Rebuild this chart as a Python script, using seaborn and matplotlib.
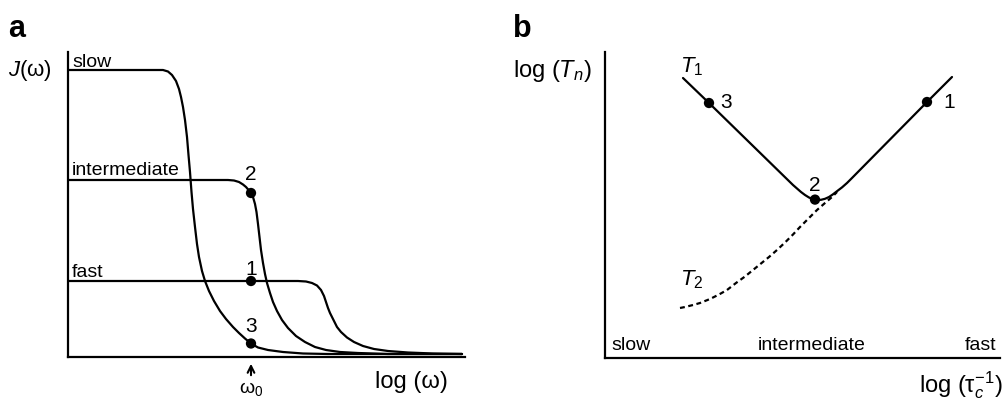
import matplotlib
matplotlib.use("Agg")
import matplotlib.pyplot as plt
import seaborn as sns
import pandas as pd

# ---- panel a: spectral density J(omega) against log(omega), arbitrary units ----
logw_slow = [0, 95, 100, 104, 108, 111, 113, 115, 117, 119, 120.5, 122, 123.5,
             125, 127, 129, 131, 134, 137, 141, 146, 152, 158, 165, 171, 177,
             183, 190, 200, 215, 235, 260, 394]
J_slow = [287, 287, 285.5, 282, 276, 268, 260, 250, 237, 220, 202, 185, 165,
          148, 130, 113, 100, 86, 76, 66, 56, 46, 38, 30, 24, 18.5,
          13.5, 9.5, 7, 5, 3.5, 3, 3]

logw_inter = [0, 160, 166, 171, 175, 178, 181, 183, 185, 187, 188.5, 190, 191.5,
              193, 195, 197, 199, 202, 205, 209, 214, 220, 228, 237, 247, 258,
              272, 290, 320, 394]
J_inter = [177, 177, 176.5, 175, 172.5, 170, 166.5, 164, 160, 153, 145, 133, 120,
           107, 94, 83, 74, 64, 55, 46, 37, 29, 21, 15, 10, 7,
           5, 4, 3, 3]

logw_fast = [0, 230, 238, 244, 249, 253, 256, 258, 260, 262, 264, 266.5, 269,
             273, 279, 286, 295, 306, 320, 340, 365, 394]
J_fast = [76, 76, 75.5, 74, 71.5, 67, 61, 55, 49, 44, 40, 35, 30,
          25, 19.5, 15, 11, 8, 6, 4.5, 3.5, 3]

curve_labels_a = ["slow", "intermediate", "fast"]
curve_label_J = [290, 182, 80]

omega0 = 183
point_names_a = ["2", "1", "3"]
point_J_a = [164, 76, 13.5]

# ---- panel b: relaxation times against log(1/tau_c) ----
T1_x = [78, 104, 188, 192, 196, 200, 204, 208, 212, 216, 220, 224, 228, 232,
        237, 242, 247, 322, 347]
T1_y = [280, 255, 173, 169.5, 166, 163, 160.5, 158.8, 158.1, 158.2, 159.2,
        161, 163.7, 166.8, 170.6, 175, 180, 256, 281]

T2_x = [75, 80, 88, 95, 105, 114, 122, 131, 140, 148, 156, 164, 172, 180, 188,
        195, 204, 212, 220, 227, 232]
T2_y = [50, 51, 53, 55, 59, 63.5, 68, 75, 81.5, 88, 94.5, 101, 108, 115.5,
        123.5, 131, 140, 148, 155, 161, 166]

point_names_b = ["3", "2", "1"]
point_x_b = [104, 210, 322]
point_y_b = [255, 158.4, 256]

regime_labels_b = ["slow", "intermediate", "fast"]

# ---- style ----
sns.set_style("white")
plt.rcParams["font.family"] = ["Liberation Sans", "DejaVu Sans"]
plt.rcParams["text.color"] = "black"
plt.rcParams["mathtext.fontset"] = "custom"
plt.rcParams["mathtext.rm"] = "Liberation Sans"
plt.rcParams["mathtext.it"] = "Liberation Sans:italic"
plt.rcParams["mathtext.bf"] = "Liberation Sans:bold"

W, H = 1006, 405
fig = plt.figure(figsize=(W / 100, H / 100), dpi=100)


def box(l, r, t, b):
    return [l / W, 1 - b / H, (r - l) / W, (b - t) / H]


def ftext(px, py, s, **kw):
    fig.text(px / W, 1 - py / H, s, color="black", **kw)


axa = fig.add_axes(box(68, 465, 52, 357))
axb = fig.add_axes(box(605, 1000, 52, 358))

for ax, xmax, ymax in [(axa, 397, 305), (axb, 395, 306)]:
    ax.set_xlim(0, xmax)
    ax.set_ylim(0, ymax)
    ax.set_xticks([])
    ax.set_yticks([])
    ax.set_facecolor("white")
    sns.despine(ax=ax)
    for s in ["left", "bottom"]:
        ax.spines[s].set_linewidth(1.6)
        ax.spines[s].set_color("black")

line_kw = dict(color="black", lw=1.6, sort=False, estimator=None)

# panel a curves
for xs, ys in [(logw_slow, J_slow), (logw_inter, J_inter), (logw_fast, J_fast)]:
    df = pd.DataFrame({"logw": xs, "J": ys})
    sns.lineplot(data=df, x="logw", y="J", ax=axa, **line_kw)

pts_a = pd.DataFrame({"logw": [omega0] * 3, "J": point_J_a})
sns.scatterplot(data=pts_a, x="logw", y="J", ax=axa, color="black", s=55,
                edgecolor="none", zorder=5, clip_on=False)

for lab, yv in zip(curve_labels_a, curve_label_J):
    axa.text(4, yv, lab, fontsize=14, ha="left", va="baseline")

for name, yv in zip(point_names_a, [177, 82, 25]):
    axa.text(omega0, yv, name, fontsize=15, ha="center", va="baseline")

axa.annotate("", xy=(omega0, -4), xytext=(omega0, -21),
             arrowprops=dict(arrowstyle="->", color="black", lw=1.5,
                             mutation_scale=12),
             annotation_clip=False)
axa.text(omega0, -23, r"$\mathregular{\omega_0}$", fontsize=14,
         ha="center", va="top", clip_on=False)
axa.text(380, -31, "log (ω)", fontsize=17, ha="right", va="baseline")

ftext(8, 37, "a", fontsize=22, fontweight="bold", ha="left", va="baseline")
ftext(8, 76, r"$J$(ω)", fontsize=16, ha="left", va="baseline")

# panel b curves
sns.lineplot(data=pd.DataFrame({"x": T1_x, "y": T1_y}), x="x", y="y",
             ax=axb, **line_kw)
sns.lineplot(data=pd.DataFrame({"x": T2_x, "y": T2_y}), x="x", y="y",
             ax=axb, color="black", lw=1.6, sort=False, estimator=None,
             linestyle=(0, (2.2, 1.6)))

pts_b = pd.DataFrame({"x": point_x_b, "y": point_y_b})
sns.scatterplot(data=pts_b, x="x", y="y", ax=axb, color="black", s=55,
                edgecolor="none", zorder=5)

axb.text(115, 250, point_names_b[0], fontsize=15, ha="left", va="baseline")
axb.text(210, 167, point_names_b[1], fontsize=15, ha="center", va="baseline")
axb.text(338, 250, point_names_b[2], fontsize=15, ha="left", va="baseline")

axb.text(75, 286, r"$T_1$", fontsize=16, ha="left", va="baseline")
axb.text(75, 73, r"$T_2$", fontsize=16, ha="left", va="baseline")

axb.text(6, 8, regime_labels_b[0], fontsize=14, ha="left", va="baseline")
axb.text(153, 8, regime_labels_b[1], fontsize=14, ha="left", va="baseline")
axb.text(391, 8, regime_labels_b[2], fontsize=14, ha="right", va="baseline")

axb.text(398, -34, r"log ($\mathrm{\tau}_c^{-1}$)", fontsize=17, ha="right",
         va="baseline", clip_on=False)

ftext(513, 37, "b", fontsize=22, fontweight="bold", ha="left", va="baseline")
ftext(513, 77, r"log ($T_n$)", fontsize=17, ha="left", va="baseline")

fig.savefig("out.png", dpi=100, facecolor="white")
